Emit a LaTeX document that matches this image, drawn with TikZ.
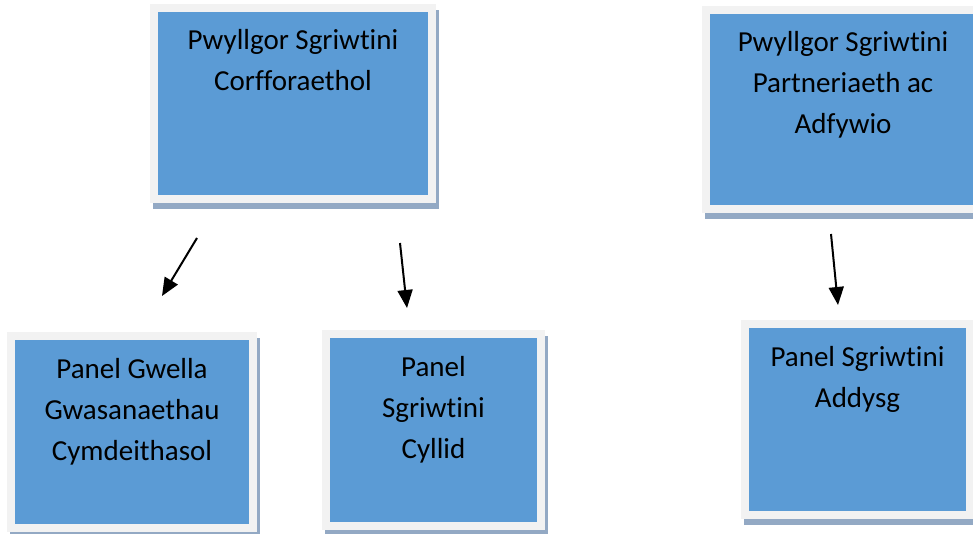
\documentclass[tikz,border=0pt]{standalone}
\usepackage{fontspec}
\setmainfont{Carlito}[Ligatures=NoCommon]
\usetikzlibrary{arrows.meta,shadows}
\definecolor{boxblue}{HTML}{5B9BD5}
\definecolor{boxframe}{HTML}{F2F2F2}
\definecolor{boxshade}{HTML}{93A9C4}

\begin{document}
\begin{tikzpicture}[x=1pt,y=-1pt,
  panel/.style={rectangle,fill=boxblue,draw=boxframe,line width=8pt,inner sep=0pt,
    drop shadow={shadow xshift=3pt,shadow yshift=-6pt,fill=boxshade,draw=boxshade,line width=8pt,opacity=1}},
  caption/.style={anchor=base,align=flush center,text width=#1,inner sep=0pt,yshift=-46pt,
    font=\fontsize{29}{41}\selectfont},
  link/.style={line width=2pt,-{Triangle[length=18pt,width=15pt]}}]
\useasboundingbox (0,0) rectangle (973,534);
\clip (0,0) rectangle (973,534);

% boxes
\node [panel,minimum width=278pt,minimum height=191pt] (corp) at (293,103.5) {};
\node [panel,minimum width=274pt,minimum height=199pt] (partner) at (843,109.5) {};
\node [panel,minimum width=242pt,minimum height=192pt] (gwella) at (132,432) {};
\node [panel,minimum width=215pt,minimum height=192pt] (cyllid) at (433.5,430) {};
\node [panel,minimum width=225pt,minimum height=191pt] (addysg) at (857.5,419.5) {};

% texts
\node [caption=260pt] (corptext) at (corp.north) {Pwyllgor Sgriwtini\\Corfforaethol};
\node [caption=260pt] (partnertext) at (partner.north) {Pwyllgor Sgriwtini\\Partneriaeth ac\\Adfywio};
\node [caption=230pt] (gwellatext) at (gwella.north) {Panel Gwella\\Gwasanaethau\\Cymdeithasol};
\node [caption=200pt] (cyllidtext) at (cyllid.north) {Panel\\Sgriwtini\\Cyllid};
\node [caption=210pt] (addysgtext) at (addysg.north) {Panel Sgriwtini\\Addysg};

% arrows
\coordinate (corpleft) at (197,238);
\coordinate (gwellatop) at (162,296);
\coordinate (corpright) at (400,243);
\coordinate (cyllidtop) at (407,308);
\coordinate (partnerdown) at (831,234);
\coordinate (addysgtop) at (838,305);
\draw [link] (corpleft) -- (gwellatop);
\draw [link] (corpright) -- (cyllidtop);
\draw [link] (partnerdown) -- (addysgtop);
\end{tikzpicture}
\end{document}
